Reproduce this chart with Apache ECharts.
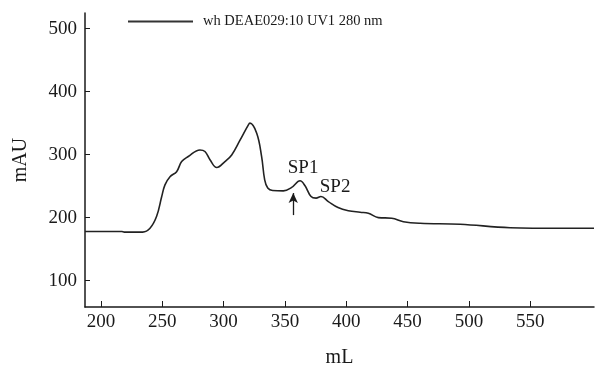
<!DOCTYPE html>
<html>
<head>
<meta charset="utf-8">
<script src="https://cdn.jsdelivr.net/npm/echarts@6/dist/echarts.min.js"></script>
<style>
  html, body { margin: 0; padding: 0; background: #fff; }
  #chart { width: 595px; height: 367px; }
</style>
</head>
<body>
<div id="chart"></div>
<script>
// elution volume (mL) and absorbance (mAU)
const volume = [187, 217, 219, 234, 240, 245.4, 249.5, 252.2, 256.3, 261.7, 265.8, 271.2, 280.7, 284.8, 288.9, 294.4, 301.1, 306.6, 313.4, 320.1, 321.5, 327, 331, 333.5, 336, 340, 348.7, 355.5, 362.3, 366.4, 371.3, 375.4, 379.4, 385.4, 393.3, 401.7, 411.3, 418, 426.2, 437.1, 446.6, 460.2, 492.8, 533.6, 574.4, 602];
const absorbance = [178, 178, 177, 177, 183, 202, 233, 252, 265, 273, 289, 297, 307.5, 305, 292, 279.5, 289, 299.5, 323, 347, 350, 334, 297, 260, 247, 243, 242.5, 248, 258.5, 250.5, 233.5, 231, 233.5, 225.5, 216, 211, 208.5, 207, 200, 199, 193.5, 191, 189.5, 184, 183, 183];

const xTicks = [200, 250, 300, 350, 400, 450, 500, 550];
const yTicks = [100, 200, 300, 400, 500];

const seriesName = 'wh DEAE029:10 UV1 280 nm';
// peak labels and the arrow under SP1 (data coordinates)
const peakLabels = [['SP1', 364.8, 279], ['SP2', 390.9, 248.7]];
const arrowFrom = [356.8, 204];
const arrowTo = [356.8, 239];

const serif = 'Liberation Serif';
const ink = '#1a1a1a';

const chart = echarts.init(document.getElementById('chart'));
chart.setOption({
  animation: false,
  grid: { left: 85, right: 1, top: 13, bottom: 60, outerBoundsMode: 'none' },
  legend: {
    left: 123, top: 9,
    icon: 'rect', itemWidth: 65, itemHeight: 2,
    textStyle: { fontFamily: serif, fontSize: 14.5, color: ink, padding: [0, 0, 0, 5] },
    data: [seriesName]
  },
  xAxis: {
    type: 'value', min: 187, max: 602,
    name: 'mL', nameLocation: 'middle', nameGap: 41,
    nameTextStyle: { fontFamily: serif, fontSize: 20, color: ink },
    axisLine: { lineStyle: { color: ink, width: 1.5 } },
    axisTick: { inside: true, length: 6, lineStyle: { color: ink }, customValues: xTicks },
    axisLabel: { fontFamily: serif, fontSize: 19, color: ink, margin: 6, customValues: xTicks },
    splitLine: { show: false }
  },
  yAxis: {
    type: 'value', min: 58, max: 525,
    name: 'mAU', nameLocation: 'middle', nameGap: 54,
    nameTextStyle: { fontFamily: serif, fontSize: 20, color: ink },
    axisLine: { show: true, lineStyle: { color: ink, width: 1.5 } },
    axisTick: { show: true, inside: true, length: 5, lineStyle: { color: ink }, customValues: yTicks },
    axisLabel: { fontFamily: serif, fontSize: 19, color: ink, margin: 8, customValues: yTicks },
    splitLine: { show: false }
  },
  series: [{
    name: seriesName,
    type: 'line',
    data: volume.map((v, i) => [v, absorbance[i]]),
    smooth: 0.4,
    showSymbol: false,
    symbol: 'none',
    itemStyle: { color: '#333' },
    lineStyle: { color: '#222', width: 1.6 },
    markPoint: {
      symbol: 'circle', symbolSize: 0,
      label: { show: true, fontFamily: serif, fontSize: 19, color: ink, position: 'inside' },
      data: peakLabels.map(p => ({ coord: [p[1], p[2]], value: p[0] }))
    },
    markLine: {
      silent: true,
      symbol: ['none', 'arrow'], symbolSize: [7, 10],
      label: { show: false },
      lineStyle: { color: ink, width: 1.3, type: 'solid' },
      data: [[{ coord: arrowFrom }, { coord: arrowTo }]]
    }
  }]
});
</script>
</body>
</html>
